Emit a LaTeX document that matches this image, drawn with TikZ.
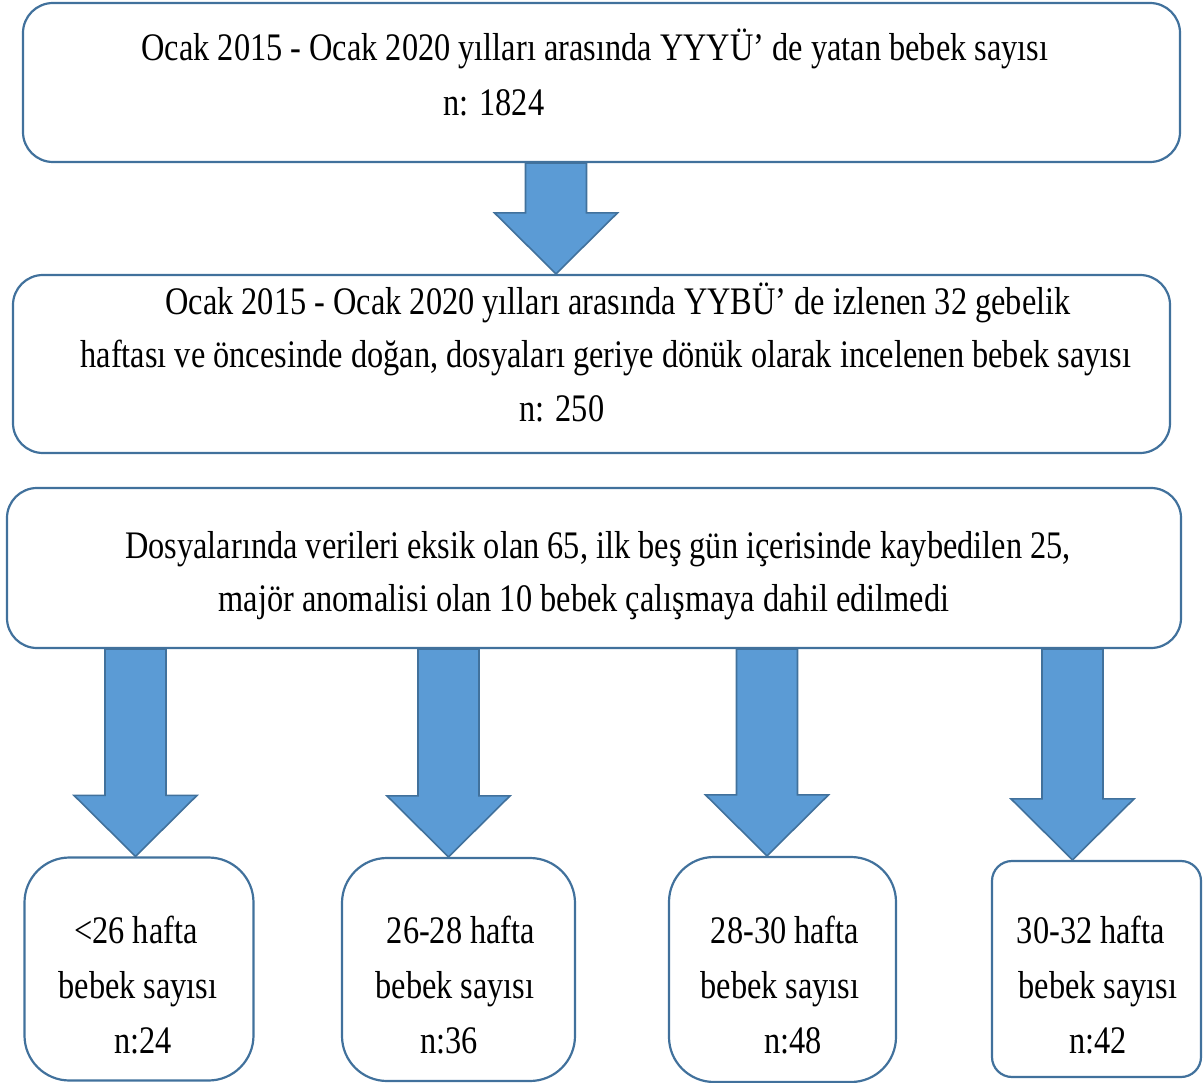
\documentclass[tikz,border=0pt]{standalone}
\usepackage{fontspec}
\newfontfamily\figfont{Liberation Serif}[FakeStretch=0.83]
\usetikzlibrary{calc}

\definecolor{boxline}{HTML}{41719C}
\definecolor{arrfill}{HTML}{5B9BD5}

% block arrow at x=#1 from the bottom of #2 to the top of #3
\newcommand{\bigarrow}[3]{%
  \filldraw[bigarr] let \p1=(#2.south), \p2=(#3.north) in
    (#1pt-30.5pt,\y1) -- (#1pt+30.5pt,\y1) -- (#1pt+30.5pt,\y2+61pt)
    -- (#1pt+61.5pt,\y2+61pt) -- (#1pt,\y2) -- (#1pt-61.5pt,\y2+61pt)
    -- (#1pt-30.5pt,\y2+61pt) -- cycle;}

\begin{document}
\begin{tikzpicture}[
  x=1pt, y=-1pt,
  box/.style={rectangle, draw=boxline, line width=2.2pt, rounded corners=30pt, inner sep=0pt},
  cell/.style={box, rounded corners=45pt, minimum width=229pt, minimum height=223pt},
  txt/.style={anchor=base, inner sep=0pt, font=\figfont\fontsize{39}{55}\selectfont},
  bigarr/.style={fill=arrfill, draw=boxline, line width=1.6pt, line join=miter}
]
\useasboundingbox (0,0) rectangle (1203,1083);

% boxes
\node[box, minimum width=1157pt, minimum height=159pt] (total) at (601.5,82.5) {};
\node[box, minimum width=1157pt, minimum height=178pt] (study) at (591.5,364) {};
\node[box, minimum width=1174pt, minimum height=160pt] (excl) at (594,568) {};

\node[cell] (g1) at (139,969) {};
\node[cell, minimum width=233pt] (g2) at (458.5,969.5) {};
\node[cell, minimum width=227pt, minimum height=225pt] (g3) at (782.5,969.5) {};
\node[cell, rounded corners=20pt, minimum width=209pt, minimum height=216pt] (g4) at (1096.5,969) {};

% texts
\node[txt] (total1) at (595,61) {Ocak 2015 - Ocak 2020 yılları arasında YYYÜ’ de yatan bebek sayısı};
\node[txt] (total2) at (494,116) {n: 1824};

\node[txt] (study1) at (618,315) {Ocak 2015 - Ocak 2020 yılları arasında YYBÜ’ de izlenen 32 gebelik};
\node[txt] (study2) at (606,368) {haftası ve öncesinde doğan, dosyaları geriye dönük olarak incelenen bebek sayısı};
\node[txt] (study3) at (562,421) {n: 250};

\node[txt] (excl1) at (598,558) {Dosyalarında verileri eksik olan 65, ilk beş gün içerisinde kaybedilen 25,};
\node[txt] (excl2) at (584,611) {majör anomalisi olan 10 bebek çalışmaya dahil edilmedi};

\node[txt] (g1a) at (136,943) {<26 hafta};
\node[txt] (g1b) at (138,998) {bebek sayısı};
\node[txt] (g1c) at (143,1053) {n:24};
\node[txt] (g2a) at (461,943) {26-28 hafta};
\node[txt] (g2b) at (455,998) {bebek sayısı};
\node[txt] (g2c) at (449,1053) {n:36};
\node[txt] (g3a) at (785,943) {28-30 hafta};
\node[txt] (g3b) at (780,998) {bebek sayısı};
\node[txt] (g3c) at (793,1053) {n:48};
\node[txt] (g4a) at (1091,943) {30-32 hafta};
\node[txt] (g4b) at (1098,998) {bebek sayısı};
\node[txt] (g4c) at (1098,1053) {n:42};

% arrows
\bigarrow{556}{total}{study}
\bigarrow{135.5}{excl}{g1}
\bigarrow{448.5}{excl}{g2}
\bigarrow{767}{excl}{g3}
\bigarrow{1072.5}{excl}{g4}
\end{tikzpicture}
\end{document}
